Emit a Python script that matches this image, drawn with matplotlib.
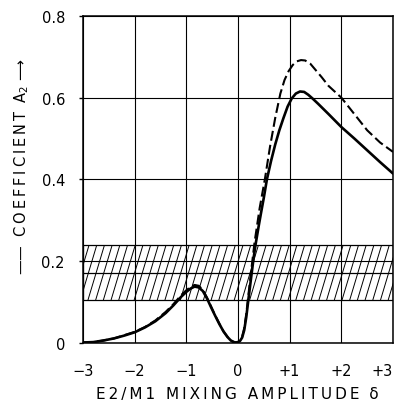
import numpy as np
import matplotlib as ml
ml.use("Agg")
import matplotlib.pyplot as plt
from matplotlib.collections import LineCollection
from matplotlib.patches import Rectangle

ml.rcParams.update({
    'font.family': ['DejaVu Sans'],
    'font.size': 10,
})

# A2 coefficient vs E2/M1 mixing amplitude
solid_x = [-3.0, -2.8, -2.6, -2.4, -2.2, -2.0, -1.8, -1.6, -1.4, -1.25, -1.1, -1.0,
           -0.92, -0.84, -0.76, -0.68, -0.6, -0.52, -0.44, -0.36, -0.28, -0.2, -0.14,
           -0.08, -0.04, 0.0, 0.04, 0.08, 0.12, 0.16, 0.20, 0.25, 0.30, 0.34, 0.40,
           0.445, 0.50, 0.56, 0.64, 0.72, 0.80, 0.88, 0.96, 1.04, 1.12, 1.20, 1.28,
           1.36, 1.45, 1.55, 1.75, 2.0, 2.25, 2.5, 2.75, 3.0]
solid_y = [0.0, 0.001, 0.005, 0.010, 0.017, 0.025, 0.037, 0.052, 0.072, 0.091, 0.112, 0.124,
           0.132, 0.137, 0.135, 0.126, 0.108, 0.086, 0.065, 0.045, 0.027, 0.013, 0.005,
           0.001, 0.0, 0.001, 0.004, 0.012, 0.03, 0.062, 0.104, 0.155, 0.205, 0.24, 0.285,
           0.317, 0.355, 0.40, 0.445, 0.485, 0.52, 0.55, 0.578, 0.598, 0.610, 0.615, 0.614,
           0.607, 0.597, 0.585, 0.560, 0.528, 0.50, 0.471, 0.442, 0.414]

dashed_x = [-3.0, -2.8, -2.6, -2.4, -2.2, -2.0, -1.8, -1.6, -1.4, -1.25, -1.1, -1.0,
            -0.92, -0.84, -0.76, -0.68, -0.6, -0.52, -0.44, -0.36, -0.28, -0.2, -0.14,
            -0.08, -0.04, 0.0, 0.04, 0.08, 0.12, 0.16, 0.20, 0.25, 0.32, 0.42, 0.52,
            0.62, 0.72, 0.82, 0.90, 0.98, 1.06, 1.14, 1.22, 1.30, 1.40, 1.50, 1.62,
            1.75, 2.0, 2.25, 2.5, 2.75, 3.0]
dashed_y = [0.0, 0.001, 0.005, 0.010, 0.018, 0.026, 0.038, 0.054, 0.075, 0.094, 0.116, 0.128,
            0.136, 0.141, 0.139, 0.129, 0.110, 0.088, 0.066, 0.046, 0.027, 0.013, 0.005,
            0.001, 0.0, 0.001, 0.005, 0.014, 0.035, 0.07, 0.115, 0.17, 0.245, 0.33, 0.40,
            0.48, 0.55, 0.61, 0.643, 0.665, 0.68, 0.689, 0.692, 0.691, 0.683, 0.668, 0.65,
            0.629, 0.60, 0.56, 0.52, 0.49, 0.467]

# measured A2 with error band
band_lo = 0.104
band_mid = 0.171
band_hi = 0.24

x_ticks = [-3, -2, -1, 0, 1, 2, 3]
x_tick_labels = ['\u22123', '\u22122', '\u22121', '0', '+1', '+2', '+3']
y_ticks = [0, 0.2, 0.4, 0.6, 0.8]
y_tick_labels = ['0', '0.2', '0.4', '0.6', '0.8']


def spaced(s):
    return '\u2009'.join(s)


fig = plt.figure(figsize=(3.96, 4.06), dpi=100)
ax = fig.add_axes([83 / 396, 1 - 343.5 / 406, 310 / 396, 326.5 / 406])

ax.set_xlim(-3, 3)
ax.set_ylim(0, 0.8)
ax.set_xticks(x_ticks)
ax.set_xticklabels(x_tick_labels)
ax.set_yticks(y_ticks)
ax.set_yticklabels(y_tick_labels)
ax.tick_params(axis='x', length=0, pad=15, labelsize=10.5)
ax.tick_params(axis='y', length=3, width=1, direction='out', pad=10, labelsize=10.5)
ax.get_xticklabels()[-1].set_horizontalalignment('right')
ax.grid(True, color='black', linewidth=0.8)
ax.set_axisbelow(True)
for sp in ax.spines.values():
    sp.set_linewidth(1.1)

# hatched band
band = Rectangle((-3, band_lo), 6, band_hi - band_lo, facecolor='none',
                 edgecolor='black', linewidth=0.9)
ax.add_patch(band)
ax.axhline(band_mid, color='black', linewidth=0.9)
slope = 0.422   # steep hatch lines (~73 deg on screen)
run = (band_hi - band_lo) / slope
segs = [[(x0, band_lo), (x0 + run, band_hi)] for x0 in np.arange(-3.5, 3.0, 0.149)]
hatch = LineCollection(segs, colors='black', linewidths=0.7)
ax.add_collection(hatch)
hatch.set_clip_path(band)

ax.plot(dashed_x, dashed_y, color='black', linewidth=1.5, linestyle=(0, (4.8, 2.0)))
ax.plot(solid_x, solid_y, color='black', linewidth=1.9, solid_capstyle='round',
        solid_joinstyle='round')

fig.text(237 / 396, 1 - 395 / 406, spaced('E2/M1 MIXING AMPLITUDE') + '  \u03b4',
         ha='center', va='center', fontsize=11)
fig.text(22 / 396, 1 - 167 / 406,
         '\u2014\u2014  ' + spaced('COEFFICIENT') + '  A$_2$ \u27f6',
         rotation=90, ha='center', va='center', fontsize=10.5)

fig.savefig('out.png', dpi=100)
